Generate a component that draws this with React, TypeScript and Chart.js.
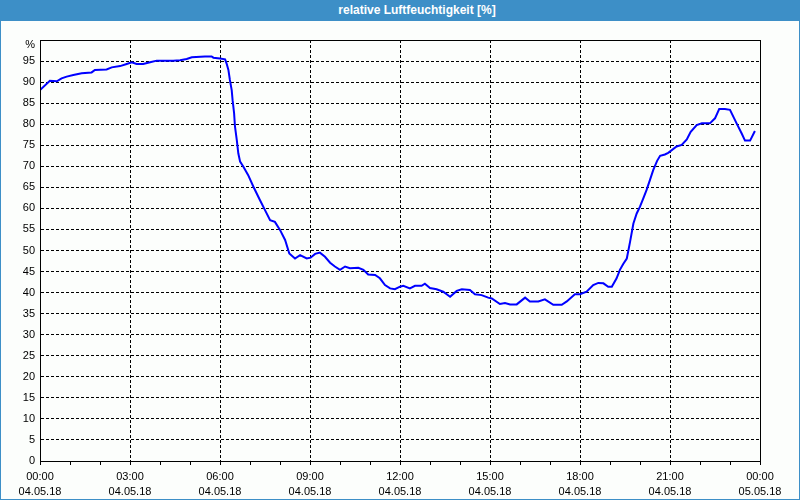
import React, { useEffect, useRef } from "react";
import { Chart, registerables } from "chart.js";

Chart.register(...registerables);

const chartTitle = "relative Luftfeuchtigkeit [%]";

const hours = [
  0.0, 0.33, 0.56, 0.72, 0.89, 1.11, 1.39, 1.72, 1.83, 2.22, 2.39, 2.67, 2.89,
  3.06, 3.22, 3.44, 3.67, 3.89, 4.44, 4.67, 4.89, 5.06, 5.5, 5.72, 5.78, 6.0,
  6.17, 6.22, 6.28, 6.33, 6.39, 6.42, 6.47, 6.5, 6.56, 6.61, 6.67, 6.78, 6.94,
  7.11, 7.33, 7.5, 7.67, 7.83, 8.0, 8.17, 8.31, 8.5, 8.67, 8.89, 9.02, 9.17,
  9.33, 9.5, 9.67, 9.83, 10.0, 10.17, 10.33, 10.61, 10.78, 10.94, 11.17, 11.33,
  11.5, 11.67, 11.83, 12.0, 12.11, 12.33, 12.5, 12.72, 12.83, 13.0, 13.22,
  13.44, 13.67, 13.89, 14.06, 14.33, 14.5, 14.72, 14.94, 15.06, 15.33, 15.5,
  15.67, 15.89, 16.17, 16.33, 16.61, 16.83, 17.11, 17.39, 17.56, 17.83, 18.0,
  18.22, 18.44, 18.61, 18.78, 18.94, 19.06, 19.22, 19.33, 19.44, 19.56, 19.67,
  19.78, 19.89, 20.0, 20.11, 20.22, 20.33, 20.44, 20.57, 20.67, 20.83, 20.94,
  21.22, 21.39, 21.56, 21.69, 21.89, 22.06, 22.33, 22.5, 22.64, 22.83, 23.0,
  23.22, 23.39, 23.5, 23.67, 23.83,
];

const humidity = [
  88.1, 90.3, 90.2, 90.9, 91.3, 91.7, 92.1, 92.3, 92.9, 93.0, 93.5, 93.8, 94.3,
  94.7, 94.3, 94.3, 94.7, 95.1, 95.1, 95.2, 95.5, 95.9, 96.1, 96.1, 95.8, 95.6,
  95.4, 94.4, 92.9, 90.5, 88.1, 85.7, 82.6, 79.4, 76.2, 73.1, 71.1, 69.9, 67.9,
  65.2, 62.0, 59.6, 57.2, 56.8, 54.9, 52.5, 49.3, 48.1, 48.9, 48.1, 48.3, 49.2,
  49.5, 48.5, 47.1, 46.2, 45.4, 46.2, 45.8, 45.9, 45.4, 44.3, 44.2, 43.4,
  41.8, 41.0, 40.8, 41.4, 41.6, 41.0, 41.6, 41.6, 42.1, 41.1, 40.8,
  40.2, 39.0, 40.4, 40.8, 40.6, 39.6, 39.4, 38.8, 38.6, 37.3, 37.5,
  37.2, 37.2, 38.8, 37.9, 37.9, 38.4, 37.1, 37.1, 37.9, 39.6, 39.6,
  40.2, 41.8, 42.3, 42.2, 41.4, 41.4, 43.4, 45.4, 46.8, 48.1, 52.1,
  56.4, 58.8, 60.4, 62.4, 64.4, 66.7, 69.1, 71.3, 72.5, 72.8, 73.2,
  74.7, 75.1, 76.4, 78.2, 79.8, 80.2, 80.2, 81.4, 83.6, 83.6, 83.4,
  80.2, 77.8, 76.1, 76.1, 78.4,
];

const timeLabels = ["00:00", "03:00", "06:00", "09:00", "12:00", "15:00", "18:00", "21:00", "00:00"];
const dateLabels = ["04.05.18", "04.05.18", "04.05.18", "04.05.18", "04.05.18", "04.05.18", "04.05.18", "04.05.18", "05.05.18"];
const yTopLabel = "%";

const FONT = '"Liberation Sans", Arial, sans-serif';

export default function App() {
  const canvasRef = useRef<HTMLCanvasElement | null>(null);

  useEffect(() => {
    document.body.style.margin = "0";
    const canvas = canvasRef.current;
    if (!canvas) return;

    const frame = {
      id: "frameBox",
      afterDraw(chart: any) {
        const { ctx, chartArea } = chart;
        ctx.save();
        ctx.strokeStyle = "#000";
        ctx.lineWidth = 1;
        ctx.setLineDash([]);
        const l = Math.round(chartArea.left) + 0.5;
        const t = Math.round(chartArea.top) + 0.5;
        const r = Math.round(chartArea.right) + 0.5;
        const b = Math.round(chartArea.bottom) + 0.5;
        ctx.strokeRect(l, t, r - l, b - t);
        ctx.restore();
      },
    };

    const chart = new Chart(canvas, {
      type: "line",
      data: {
        datasets: [
          {
            data: hours.map((h, i) => ({ x: h, y: humidity[i] })),
            borderColor: "#0000ff",
            borderWidth: 2,
            pointRadius: 0,
            tension: 0,
            fill: false,
          },
        ],
      },
      options: {
        animation: false,
        responsive: false,
        maintainAspectRatio: false,
        layout: { padding: { top: 19, right: 40, bottom: 0, left: 0 } },
        plugins: {
          legend: { display: false },
          title: { display: false },
          tooltip: { enabled: false },
        },
        scales: {
          x: {
            type: "linear",
            min: 0,
            max: 24,
            afterFit: (scale: any) => {
              scale.height = 39;
            },
            ticks: {
              stepSize: 1,
              autoSkip: false,
              maxRotation: 0,
              minRotation: 0,
              padding: 4,
              color: "#000",
              font: { family: FONT, size: 11, lineHeight: "15px" },
              callback: (value: any) => {
                const v = Number(value);
                if (v % 3 !== 0) return "";
                const i = v / 3;
                return [timeLabels[i], dateLabels[i]];
              },
            },
            grid: {
              color: (ctx: any) =>
                ctx.tick && ctx.tick.value % 3 === 0 ? "#000" : "rgba(0,0,0,0)",
              lineWidth: 1,
              tickColor: "#000",
              tickLength: 4,
              tickBorderDash: [],
            },
            border: { display: true, color: "#000", width: 1, dash: [3, 2] },
          },
          y: {
            min: 0,
            max: 100,
            afterFit: (scale: any) => {
              scale.width = 40;
            },
            ticks: {
              stepSize: 5,
              autoSkip: false,
              padding: 5,
              color: "#000",
              font: { family: FONT, size: 11, lineHeight: "10px" },
              callback: (value: any) =>
                Number(value) === 100 ? ["", yTopLabel] : String(value),
            },
            grid: {
              color: "#000",
              lineWidth: 1,
              drawTicks: false,
            },
            border: { display: true, color: "#000", width: 1, dash: [3, 2] },
          },
        },
      },
      plugins: [frame],
    });

    return () => {
      chart.destroy();
    };
  }, []);

  return (
    <div
      style={{
        position: "relative",
        width: 800,
        height: 500,
        background: "#fcfefc",
        overflow: "hidden",
      }}
    >
      <div
        style={{
          position: "absolute",
          left: 0,
          top: 0,
          width: 800,
          height: 21,
          background: "#3d8fc7",
          color: "#fff",
          font: `bold 12px ${FONT}`,
          lineHeight: "21px",
          textAlign: "center",
          paddingLeft: 34,
          boxSizing: "border-box",
        }}
      >
        {chartTitle}
      </div>
      <canvas
        ref={canvasRef}
        width={800}
        height={479}
        style={{ position: "absolute", left: 0, top: 21, width: 800, height: 479 }}
      />
      <div
        style={{
          position: "absolute",
          left: 0,
          top: 0,
          width: 800,
          height: 500,
          border: "1px solid #3d8fc7",
          boxSizing: "border-box",
          pointerEvents: "none",
        }}
      />
    </div>
  );
}
